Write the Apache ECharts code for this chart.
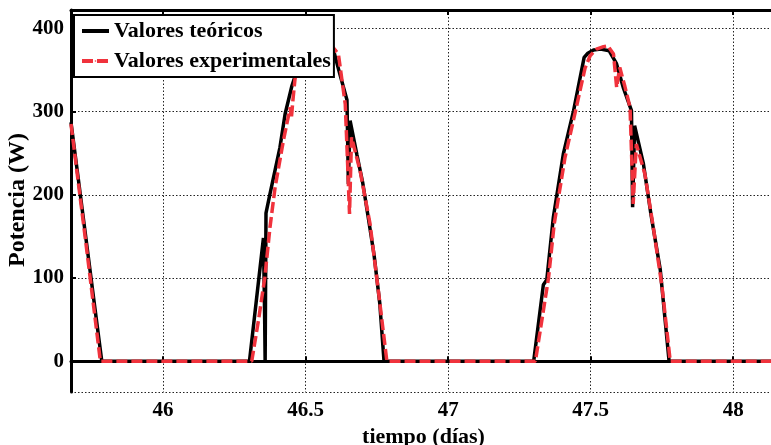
<!DOCTYPE html>
<html>
<head>
<meta charset="utf-8">
<script src="https://cdn.jsdelivr.net/npm/echarts@6/dist/echarts.min.js"></script>
<style>
  html, body { margin: 0; padding: 0; background: #fff; }
  #chart { width: 771px; height: 445px; }
</style>
</head>
<body>
<div id="chart"></div>
<script>
// tiempo (días) y potencia (W)
const tTeo = [45.677, 45.70, 45.73, 45.76, 45.785, 46.303, 46.352, 46.356, 46.358, 46.361, 46.375, 46.41, 46.428, 46.452, 46.48, 46.51, 46.54, 46.57, 46.596, 46.62, 46.645, 46.650, 46.656, 46.68, 46.70, 46.72, 46.74, 46.76, 46.775, 47.300, 47.334, 47.346, 47.369, 47.404, 47.44, 47.477, 47.49, 47.51, 47.535, 47.565, 47.59, 47.615, 47.643, 47.647, 47.654, 47.685, 47.712, 47.744, 47.775, 48.15];
const pTeo = [287, 226, 146, 66, 0, 0, 148, 60, 0, 178, 201, 257, 297, 331, 360, 385, 395, 392, 376, 345, 314, 213, 289, 248, 215, 172, 128, 70, 0, 0, 92, 98, 173, 249, 301, 365, 370, 374, 375, 373, 358, 328, 301, 185, 283, 237, 175, 110, 0, 0];

const tExp = [45.677, 45.70, 45.73, 45.755, 45.78, 46.311, 46.335, 46.357, 46.375, 46.393, 46.422, 46.446, 46.450, 46.455, 46.463, 46.49, 46.52, 46.55, 46.575, 46.596, 46.615, 46.639, 46.647, 46.654, 46.661, 46.691, 46.726, 46.755, 46.785, 47.306, 47.352, 47.372, 47.41, 47.445, 47.48, 47.498, 47.52, 47.545, 47.56, 47.58, 47.591, 47.602, 47.62, 47.638, 47.649, 47.66, 47.69, 47.72, 47.75, 47.779, 48.15];
const pExp = [285, 222, 140, 70, 0, 0, 50, 101, 161, 209, 265, 305, 292, 312, 340, 365, 385, 393, 390, 377, 369, 309, 240, 177, 269, 229, 165, 85, 0, 0, 100, 165, 245, 298, 352, 367, 375, 378, 379, 369, 329, 353, 330, 305, 189, 261, 225, 160, 90, 0, 0];

const nombres = ['Valores teóricos', 'Valores experimentales'];
const tituloY = 'Potencia (W)';

const zip = (xs, ys) => xs.map((x, i) => [x, ys[i]]);

const fuente = 'Liberation Serif, Times New Roman, serif';
const xMin = 45.677, xMax = 48.15;
const yMin = -37, yMax = 422;

const chart = echarts.init(document.getElementById('chart'));

chart.setOption({
  backgroundColor: '#fff',
  animation: false,
  grid: { left: 71, top: 10, right: -5, bottom: 53, outerBoundsMode: 'none', containLabel: false },
  legend: {
    orient: 'vertical',
    left: 74,
    top: 15,
    data: nombres,
    backgroundColor: '#fff',
    borderColor: '#000',
    borderWidth: 2,
    borderRadius: 0,
    padding: [5, 3, 5, 6],
    itemGap: 8,
    itemWidth: 27,
    itemHeight: 2,
    lineStyle: { width: 4 },
    textStyle: { fontFamily: fuente, fontWeight: 'bold', fontSize: 22, color: '#000', lineHeight: 22 }
  },
  // titulo del eje Y colocado a mano (rotado)
  graphic: [
    {
      type: 'text',
      x: 18,
      y: 200,
      rotation: Math.PI / 2,
      style: {
        text: tituloY,
        font: 'bold 24px ' + fuente,
        fill: '#000',
        align: 'center',
        verticalAlign: 'middle'
      }
    }
  ],
  xAxis: [
    {
      type: 'value',
      min: xMin,
      max: xMax,
      splitNumber: 5,
      name: 'tiempo (días)',
      nameLocation: 'middle',
      nameGap: 33,
      nameTextStyle: { fontFamily: fuente, fontWeight: 'bold', fontSize: 22, color: '#000' },
      axisLine: { lineStyle: { color: '#000', width: 3 } },
      axisTick: { inside: true, length: 5, lineStyle: { color: '#000', width: 2 } },
      axisLabel: {
        showMinLabel: false, showMaxLabel: false, margin: 8,
        fontFamily: fuente, fontWeight: 'bold', fontSize: 21, color: '#000'
      },
      splitLine: { show: true, lineStyle: { color: '#222', width: 1, type: [1.5, 2] } }
    },
    {
      type: 'value',
      position: 'top',
      min: xMin,
      max: xMax,
      splitNumber: 5,
      axisLine: { lineStyle: { color: '#000', width: 3 } },
      axisTick: { inside: true, length: 5, lineStyle: { color: '#000', width: 2 } },
      axisLabel: { show: false },
      splitLine: { show: false }
    }
  ],
  yAxis: {
    type: 'value',
    min: yMin,
    max: yMax,
    splitNumber: 5,
    axisLine: { show: true, lineStyle: { color: '#000', width: 3 } },
    axisTick: { show: true, inside: true, length: 5, lineStyle: { color: '#000', width: 2 } },
    axisLabel: {
      showMinLabel: false, showMaxLabel: false, margin: 7,
      fontFamily: fuente, fontWeight: 'bold', fontSize: 21, color: '#000'
    },
    splitLine: { show: true, lineStyle: { color: '#222', width: 1, type: [1.5, 2] } }
  },
  series: [
    {
      name: nombres[0],
      type: 'line',
      data: zip(tTeo, pTeo),
      showSymbol: false,
      symbol: 'none',
      lineStyle: { color: '#000', width: 3.5 },
      itemStyle: { color: '#000' },
      z: 2
    },
    {
      name: nombres[1],
      type: 'line',
      data: zip(tExp, pExp),
      showSymbol: false,
      symbol: 'none',
      lineStyle: { color: '#f0323c', width: 3.5, type: [11, 4] },
      itemStyle: { color: '#f0323c' },
      z: 3
    }
  ]
});
</script>
</body>
</html>
